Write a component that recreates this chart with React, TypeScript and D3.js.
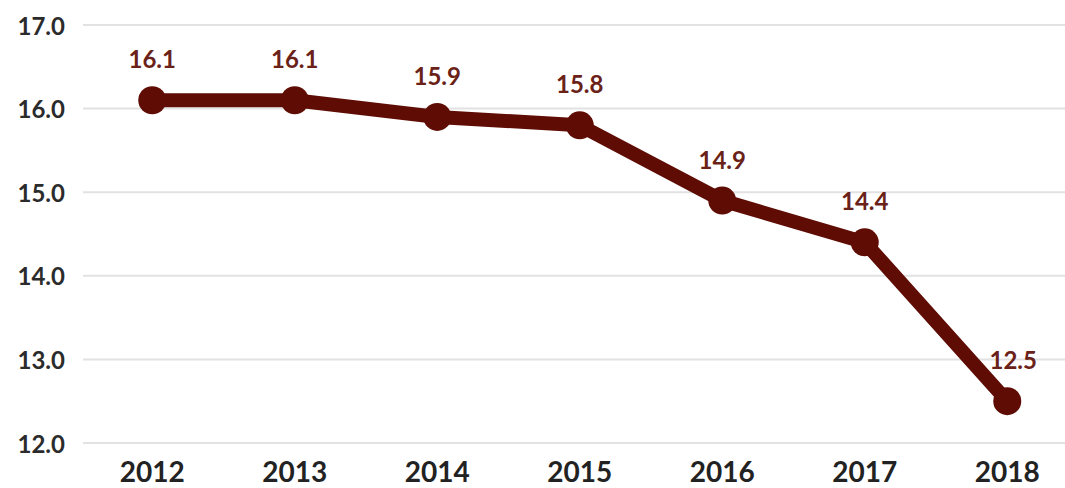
import React from "react";
import * as d3 from "d3";

const years = ["2012", "2013", "2014", "2015", "2016", "2017", "2018"];
const values = [16.1, 16.1, 15.9, 15.8, 14.9, 14.4, 12.5];
const yTicks = [12, 13, 14, 15, 16, 17];

const W = 1065;
const H = 488;

export default function App() {
  const x = d3.scalePoint<string>().domain(years).range([81, 1078.5]).padding(0.5);
  const y = d3.scaleLinear().domain([12, 17]).range([443, 25]);
  const line = d3
    .line<number>()
    .x((_, i) => x(years[i])!)
    .y((d) => y(d));
  const font = "Lato, 'Open Sans', sans-serif";
  const maroon = "#5e0c04";
  return (
    <svg width={W} height={H} style={{ position: "absolute", left: 0, top: 0, background: "#fff" }}>
      {yTicks.map((t) => (
        <g key={t}>
          <line x1={83} x2={1065} y1={y(t)} y2={y(t)} stroke="#e2e2e2" strokeWidth={2} />
          <text
            x={65}
            y={y(t)}
            textAnchor="end"
            dominantBaseline="central"
            fontFamily={font}
            fontWeight={700}
            fontSize={24}
            fill="#2b2b2b"
          >
            {t.toFixed(1)}
          </text>
        </g>
      ))}
      {years.map((yr) => (
        <text
          key={yr}
          x={x(yr)}
          y={482}
          textAnchor="middle"
          fontFamily={font}
          fontWeight={700}
          fontSize={28}
          fill="#222"
        >
          {yr}
        </text>
      ))}
      <path d={line(values) || ""} fill="none" stroke={maroon} strokeWidth={14} strokeLinejoin="round" />
      {values.map((v, i) => (
        <circle key={i} cx={x(years[i])} cy={y(v)} r={14} fill={maroon} />
      ))}
      {values.map((v, i) => (
        <text
          key={"l" + i}
          x={x(years[i])! + (i === values.length - 1 ? 6 : 0)}
          y={y(v) - 32}
          textAnchor="middle"
          fontFamily={font}
          fontWeight={700}
          fontSize={24}
          fill="#6a2218"
        >
          {v.toFixed(1)}
        </text>
      ))}
    </svg>
  );
}
